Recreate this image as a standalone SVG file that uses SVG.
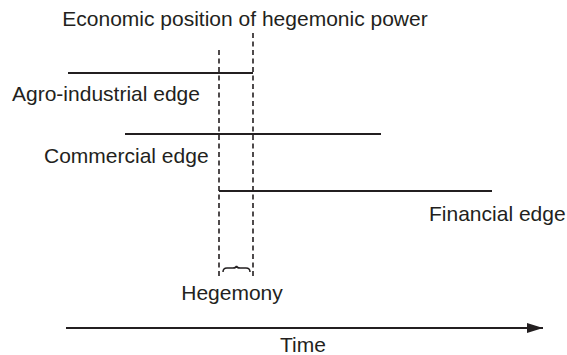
<svg xmlns="http://www.w3.org/2000/svg" width="567" height="355" viewBox="0 0 567 355">
<style>
text{font-family:"Liberation Sans",Arial,sans-serif;font-size:21px;fill:#231f20}
.edge{stroke:#231f20;stroke-width:2;fill:none}
.dash{stroke:#231f20;stroke-width:1.6;stroke-dasharray:5,3.5;fill:none}
</style>
<defs>
<marker id="arr" viewBox="0 0 16 10" refX="16" refY="5" markerWidth="16" markerHeight="10" markerUnits="userSpaceOnUse" orient="auto">
<path d="M0,0 L16,5 L0,10 Z" fill="#231f20"/>
</marker>
</defs>
<g id="title"><text x="245" y="26" text-anchor="middle">Economic position of hegemonic power</text></g>
<g id="connectors">
<line class="dash" x1="219" y1="50" x2="219" y2="276"/>
<line class="dash" x1="253" y1="33" x2="253" y2="276"/>
<line class="edge" x1="66" y1="328" x2="543" y2="328" marker-end="url(#arr)"/>
</g>
<g id="agro"><line class="edge" x1="68" y1="73" x2="253" y2="73"/><text x="12" y="101">Agro-industrial edge</text></g>
<g id="commercial"><line class="edge" x1="125" y1="134" x2="381" y2="134"/><text x="44" y="163">Commercial edge</text></g>
<g id="financial"><line class="edge" x1="219" y1="191" x2="492" y2="191"/><text x="429" y="221">Financial edge</text></g>
<g id="hegemony"><path d="M223,272 Q223,268 227,268 L233,268 Q236,268 236.5,266 Q237,268 240,268 L246,268 Q250,268 250,272" fill="none" stroke="#231f20" stroke-width="1.5"/><text x="232" y="300" text-anchor="middle">Hegemony</text></g>
<g id="time"><text x="303" y="352" text-anchor="middle">Time</text></g>
</svg>
